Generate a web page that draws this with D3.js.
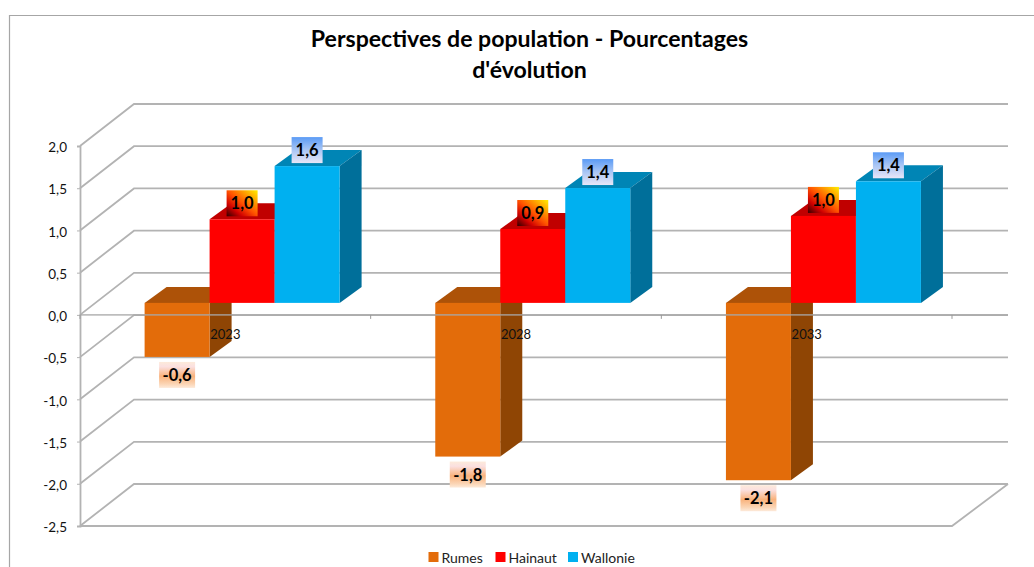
<!DOCTYPE html>
<html><head><meta charset="utf-8">
<script src="https://cdn.jsdelivr.net/npm/d3@7"></script>
<style>html,body{margin:0;padding:0;background:#fff;overflow:hidden}svg{display:block}text{font-family:Lato,"Open Sans",sans-serif}</style>
</head><body><div id="chart"></div>
<script>
const categories = ["2023", "2028", "2033"];
const seriesNames = ["Rumes", "Hainaut", "Wallonie"];
const rumes = [-0.64, -1.82, -2.10];
const hainaut = [0.99, 0.875, 1.03];
const wallonie = [1.62, 1.36, 1.44];
const yTicks = [2, 1.5, 1, 0.5, 0, -0.5, -1, -1.5, -2, -2.5];
const titleLines = ["Perspectives de population - Pourcentages", "d'évolution"];
const seriesValues = [rumes, hainaut, wallonie];
const frontColor = ["#E36C0A", "#FF0000", "#00B0F0"];
const topColor = ["#AD5208", "#C00000", "#0085B5"];
const sideColor = ["#8F4504", "#A00000", "#006F9A"];

const W = 1034, H = 567;
const svg = d3.select("#chart").append("svg").attr("width", W).attr("height", H);
const defs = svg.append("defs");
const lg = (id, attrs, stops) => {
  const g = defs.append("linearGradient").attr("id", id).attr("x1", attrs[0]).attr("y1", attrs[1]).attr("x2", attrs[2]).attr("y2", attrs[3]);
  stops.forEach(s => g.append("stop").attr("offset", s[0]).attr("stop-color", s[1]));
};
lg("lab0", [0, 0, 0, 1], [[0, "#FDEADA"], [0.18, "#FBE0E0"], [0.55, "#F9B27C"], [0.85, "#FBD5B5"], [1, "#FDEADA"]]);
lg("lab1", [0, 1, 1, 0], [[0, "#300000"], [0.25, "#D00000"], [0.5, "#FF5000"], [0.75, "#FFA000"], [1, "#FFF000"]]);
lg("lab2", [0, 0, 0, 1], [[0, "#5B9BF5"], [0.5, "#A9C6F5"], [1, "#E8E6F7"]]);

const x0 = 80, x1 = 952, yFloor = 526, yTop = 146;
const backDx = 54, backDy = 42;
const barDx = 16.6, barDy = 12, depthDx = 22, depthDy = 16;
const x = d3.scaleBand().domain(categories).range([x0, x1]);
const xBar = d3.scaleBand().domain(seriesNames).range([48, 243]);
const y = d3.scaleLinear().domain([-2.5, 2]).range([yFloor, yTop]);
const fmt = v => d3.format(".1f")(v).replace(".", ",").replace("\u2212", "-");
const lineCol = "#b3b3b3";

// chart frame
svg.append("path").attr("d", `M9.5,${H}V15.5H${W}`).attr("fill", "none").attr("stroke", "#a6a6a6").attr("stroke-width", 1.2);

// title
svg.append("g").selectAll("text").data(titleLines).join("text")
  .attr("x", 529.5).attr("y", (d, i) => 47 + i * 31)
  .attr("text-anchor", "middle").attr("font-size", 23.1).attr("font-weight", 700).attr("fill", "#000")
  .text(d => d);

// walls and gridlines
const grid = svg.append("g").attr("fill", "none").attr("stroke", lineCol).attr("stroke-width", 1.8);
grid.selectAll("path").data(yTicks).join("path")
  .attr("d", d => `M${x0},${y(d)}L${x0 + backDx},${y(d) - backDy}H${x1 + backDx + 2}`);
grid.append("path").attr("d", `M${x0},${yFloor}H${x1}L${x1 + backDx + 2},${yFloor - backDy}`);

// bars
const groups = svg.append("g").selectAll("g").data(categories).join("g")
  .attr("transform", c => `translate(${x(c) + barDx},${-barDy})`);
seriesNames.forEach((s, si) => {
  groups.each(function (c, ci) {
    const g = d3.select(this), v = seriesValues[si][ci];
    const bx = xBar(s), bw = xBar.bandwidth();
    const t = Math.min(y(v), y(0)), b = Math.max(y(v), y(0));
    g.append("path").attr("fill", topColor[si])
      .attr("d", `M${bx},${t}l${depthDx},${-depthDy}h${bw}l${-depthDx},${depthDy}Z`);
    g.append("path").attr("fill", sideColor[si])
      .attr("d", `M${bx + bw},${t}l${depthDx},${-depthDy}V${b - depthDy}l${-depthDx},${depthDy}Z`);
    g.append("rect").attr("x", bx).attr("y", t).attr("width", bw).attr("height", b - t)
      .attr("fill", frontColor[si]);
  });
});

// axes
const yAxis = svg.append("g").attr("transform", `translate(${x0},0)`)
  .call(d3.axisLeft(y).tickValues(yTicks).tickFormat(fmt).tickSize(3).tickPadding(10));
yAxis.select(".domain").attr("stroke", lineCol).attr("stroke-width", 1.8);
yAxis.selectAll("line").attr("stroke", lineCol);
yAxis.selectAll("text").attr("font-size", 13.5).attr("fill", "#111").attr("dy", "0.42em").style("font-family", "Lato");

const xAxis = svg.append("g").attr("transform", `translate(0,${y(0)})`)
  .call(d3.axisBottom(x).tickSize(0).tickPadding(15));
xAxis.select(".domain").remove();
xAxis.selectAll("text").attr("font-size", 13).attr("fill", "#111").style("font-family", "Lato");
svg.append("line").attr("x1", x0).attr("x2", x1 + backDx + 2).attr("y1", y(0)).attr("y2", y(0))
  .attr("stroke", "#a8a8a8").attr("stroke-width", 1.8).attr("opacity", 0.75);
const bounds = categories.map(c => x(c) + x.bandwidth()).concat([x0]);
svg.append("g").selectAll("line").data(bounds).join("line")
  .attr("x1", d => d).attr("x2", d => d).attr("y1", y(0)).attr("y2", y(0) + 4)
  .attr("stroke", "#999");

// value labels
const labels = svg.append("g");
seriesNames.forEach((s, si) => {
  categories.forEach((c, ci) => {
    const v = seriesValues[si][ci];
    const cx = x(c) + barDx + xBar(s) + xBar.bandwidth() / 2;
    const boxW = v < 0 ? 36 : 31, boxH = 26;
    const top = v < 0 ? y(v) - barDy + 5 : y(v) - barDy - 3 - boxH;
    labels.append("rect").attr("x", cx - boxW / 2).attr("y", top).attr("width", boxW).attr("height", boxH)
      .attr("fill", `url(#lab${si})`);
    labels.append("text").attr("x", cx).attr("y", top + 19).attr("text-anchor", "middle")
      .attr("font-size", 16.5).attr("font-weight", 700).attr("fill", "#000").text(fmt(v));
  });
});

// legend
const legendSwatch = [428.5, 495.5, 568];
const legend = svg.append("g").selectAll("g").data(seriesNames).join("g")
  .attr("transform", (d, i) => `translate(${legendSwatch[i]},552)`);
legend.append("rect").attr("width", 10).attr("height", 10).attr("fill", (d, i) => frontColor[i]);
legend.append("text").attr("x", 13).attr("y", 10.5).attr("font-size", 14).attr("fill", "#222").text(d => d);
</script></body></html>
